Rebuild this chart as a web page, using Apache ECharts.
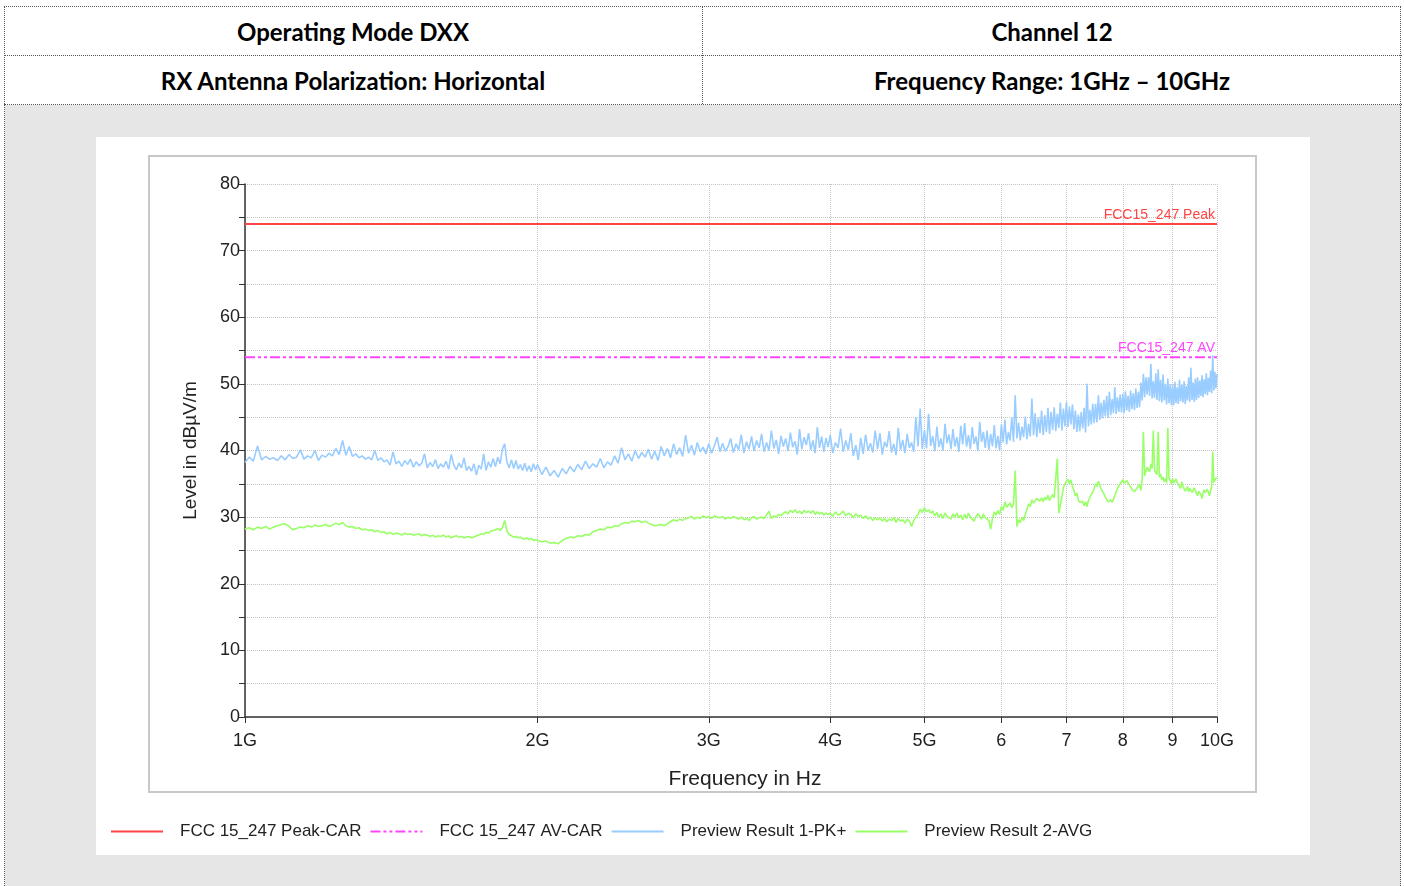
<!DOCTYPE html>
<html><head><meta charset="utf-8">
<script src="https://cdn.jsdelivr.net/npm/echarts@6/dist/echarts.min.js"></script>
<style>
html,body{margin:0;padding:0;width:1404px;height:886px;background:#fff;overflow:hidden;}
.frame{position:absolute;left:4px;top:6px;width:1397px;height:880px;border-left:1px dotted #555;border-right:1px dotted #555;border-top:1px dotted #555;box-sizing:border-box;}
.hline{position:absolute;left:4px;width:1398px;height:0;border-top:1px dotted #555;}
.vline{position:absolute;left:702px;top:6px;height:98px;width:0;border-left:1px dotted #555;}
.cell{position:absolute;display:flex;align-items:center;justify-content:center;font-family:Lato,'Open Sans',sans-serif;font-weight:700;font-size:24px;color:#000;white-space:nowrap;}
.gray{position:absolute;left:5px;top:105px;width:1396px;height:781px;background:#e6e6e6;}
#chart{position:absolute;left:96px;top:137px;width:1214px;height:718px;background:#fff;}
</style></head>
<body>
<div class="gray"></div>
<div class="frame"></div>
<div class="hline" style="top:55px"></div>
<div class="hline" style="top:104px"></div>
<div class="vline"></div>
<div class="cell" style="left:4px;top:7px;width:698px;height:48px;">Operating Mode DXX</div>
<div class="cell" style="left:703px;top:7px;width:698px;height:48px;">Channel 12</div>
<div class="cell" style="left:4px;top:56px;width:698px;height:48px;">RX Antenna Polarization: Horizontal</div>
<div class="cell" style="left:703px;top:56px;width:698px;height:48px;">Frequency Range: 1GHz – 10GHz</div>
<div id="chart"></div>
<script>
// ---- data ----
const xTickValues = [1,2,3,4,5,6,7,8,9,10];
const xTickLabels = ['1G','2G','3G','4G','5G','6','7','8','9','10G'];
const seriesNames = ['FCC 15_247 Peak-CAR','FCC 15_247 AV-CAR','Preview Result 1-PK+','Preview Result 2-AVG'];
const limitLabels = ['FCC15_247 Peak','FCC15_247 AV'];
const limitFreq = [1, 10];           // GHz
const peakLimit = [74, 74];          // dBµV/m
const avLimit = [54, 54];            // dBµV/m

const freq = [ // GHz
1.00,1.01,1.02,1.03,1.04,1.05,1.06,1.07,1.08,1.09,
1.10,1.11,1.12,1.13,1.14,1.15,1.16,1.17,1.18,1.19,
1.20,1.21,1.22,1.23,1.24,1.25,1.26,1.27,1.28,1.29,
1.30,1.31,1.32,1.33,1.34,1.35,1.36,1.37,1.38,1.39,
1.40,1.41,1.42,1.43,1.44,1.45,1.46,1.47,1.48,1.49,
1.50,1.51,1.52,1.53,1.54,1.55,1.56,1.57,1.58,1.59,
1.60,1.61,1.62,1.63,1.64,1.65,1.66,1.67,1.68,1.69,
1.70,1.71,1.72,1.73,1.74,1.75,1.76,1.77,1.78,1.79,
1.80,1.81,1.82,1.83,1.84,1.85,1.86,1.87,1.88,1.89,
1.90,1.91,1.92,1.93,1.94,1.95,1.96,1.97,1.98,1.99,
2.00,2.02,2.04,2.06,2.08,2.10,2.12,2.14,2.16,2.18,
2.20,2.22,2.24,2.26,2.28,2.30,2.32,2.34,2.36,2.38,
2.40,2.42,2.44,2.46,2.48,2.50,2.52,2.54,2.56,2.58,
2.60,2.62,2.64,2.66,2.68,2.70,2.72,2.74,2.76,2.78,
2.80,2.82,2.84,2.86,2.88,2.90,2.92,2.94,2.96,2.98,
3.00,3.02,3.04,3.06,3.08,3.10,3.12,3.14,3.16,3.18,
3.20,3.22,3.24,3.26,3.28,3.30,3.32,3.34,3.36,3.38,
3.40,3.42,3.44,3.46,3.48,3.50,3.52,3.54,3.56,3.58,
3.60,3.62,3.64,3.66,3.68,3.70,3.72,3.74,3.76,3.78,
3.80,3.82,3.84,3.86,3.88,3.90,3.92,3.94,3.96,3.98,
4.000,4.025,4.050,4.075,4.100,4.125,4.150,4.175,4.200,4.225,4.250,4.275,4.300,4.325,4.350,4.375,4.400,4.425,4.450,4.475,
4.500,4.525,4.550,4.575,4.600,4.625,4.650,4.675,4.700,4.725,4.750,4.775,4.800,4.825,4.850,4.875,4.900,4.925,4.950,4.975,
5.000,5.025,5.050,5.075,5.100,5.125,5.150,5.175,5.200,5.225,5.250,5.275,5.300,5.325,5.350,5.375,5.400,5.425,5.450,5.475,
5.500,5.525,5.550,5.575,5.600,5.625,5.650,5.675,5.700,5.725,5.750,5.775,5.800,5.825,5.850,5.875,5.900,5.925,5.950,5.975,
6.000,6.025,6.050,6.075,6.100,6.125,6.150,6.175,6.200,6.225,6.250,6.275,6.300,6.325,6.350,6.375,6.400,6.425,6.450,6.475,
6.500,6.525,6.550,6.575,6.600,6.625,6.650,6.675,6.700,6.725,6.750,6.775,6.800,6.825,6.850,6.875,6.900,6.925,6.950,6.975,
7.000,7.025,7.050,7.075,7.100,7.125,7.150,7.175,7.200,7.225,7.250,7.275,7.300,7.325,7.350,7.375,7.400,7.425,7.450,7.475,
7.500,7.525,7.550,7.575,7.600,7.625,7.650,7.675,7.700,7.725,7.750,7.775,7.800,7.825,7.850,7.875,7.900,7.925,7.950,7.975,
8.000,8.025,8.050,8.075,8.100,8.125,8.150,8.175,8.200,8.225,8.250,8.275,8.300,8.325,8.350,8.375,8.400,8.425,8.450,8.475,
8.500,8.525,8.550,8.575,8.600,8.625,8.650,8.675,8.700,8.725,8.750,8.775,8.800,8.825,8.850,8.875,8.900,8.925,8.950,8.975,
9.000,9.025,9.050,9.075,9.100,9.125,9.150,9.175,9.200,9.225,9.250,9.275,9.300,9.325,9.350,9.375,9.400,9.425,9.450,9.475,
9.500,9.525,9.550,9.575,9.600,9.625,9.650,9.675,9.700,9.725,9.750,9.775,9.800,9.825,9.850,9.875,9.900,9.925,9.950,9.975,
10.000
];

const pkValues = [ // Preview Result 1-PK+ (dBµV/m)
38.2,39.0,38.4,40.7,38.6,39.1,38.7,38.9,38.5,39.2,
38.6,39.4,38.8,39.0,40.1,38.7,39.2,38.9,40.0,38.5,
39.3,39.0,39.6,39.2,40.3,39.4,41.5,39.3,40.6,39.1,
39.5,38.9,39.2,38.7,39.0,38.6,40.0,38.5,38.9,38.3,
38.6,37.8,39.8,38.0,38.4,37.6,38.5,37.9,38.7,37.5,
38.3,37.7,38.1,39.5,37.4,38.2,37.6,38.6,37.3,38.0,
37.5,38.4,37.2,39.4,37.8,37.1,38.1,37.4,38.9,37.0,
37.6,36.9,38.0,36.3,37.8,37.2,39.5,37.0,38.3,37.5,
38.8,37.6,39.0,38.0,40.2,41.0,38.2,37.4,38.6,37.3,
38.5,37.2,37.9,37.0,38.1,36.9,37.7,36.8,38.0,37.1,
37.9,36.4,37.5,36.2,37.0,36.0,37.3,36.5,37.6,36.8,
37.9,37.1,38.4,37.3,38.0,37.5,38.8,37.4,38.3,37.8,
39.2,38.1,40.4,38.6,39.5,38.4,40.0,38.8,39.7,39.0,
40.2,38.7,39.9,38.5,40.6,39.2,40.3,38.9,41.0,39.4,
40.4,39.1,42.3,39.6,40.8,39.3,41.2,39.8,40.5,39.5,
41.0,39.6,40.7,42.0,39.8,41.1,39.9,40.6,41.8,39.7,
41.0,40.1,42.4,39.6,41.3,40.2,42.1,39.9,41.5,40.4,
42.5,39.8,41.2,40.0,43.0,40.3,41.6,39.5,42.2,40.6,
41.8,39.9,42.7,40.5,41.4,39.4,43.2,40.2,42.0,40.8,
42.6,40.1,41.5,39.6,43.5,40.4,42.1,39.8,41.9,40.5,
42.3,39.6,41.2,40.4,43.3,39.8,41.5,40.1,42.6,39.2,40.8,38.6,41.9,39.5,42.4,40.0,41.1,39.7,43.0,40.2,
42.6,39.4,41.3,40.5,42.9,39.7,41.0,39.3,43.4,40.1,41.6,39.6,42.5,40.4,41.2,39.8,45.0,40.6,46.3,40.2,
43.1,40.3,45.5,40.7,42.2,39.9,43.6,40.5,41.8,40.0,44.0,41.1,42.4,40.2,43.2,40.6,42.0,39.8,43.7,40.9,
44.1,40.6,42.3,40.2,43.5,41.0,42.1,39.9,44.3,41.3,42.8,40.4,43.0,40.1,42.5,40.6,43.8,40.3,42.2,40.0,
43.9,41.2,44.6,40.9,42.8,41.5,45.0,41.3,48.3,41.8,44.2,41.5,43.6,42.0,45.1,41.7,44.0,42.1,47.8,42.3,
45.6,42.0,44.9,42.6,46.0,42.3,45.3,42.8,46.4,42.5,45.8,43.1,46.5,42.9,45.5,43.4,47.2,43.0,46.3,43.6,
47.3,43.5,46.6,43.9,46.9,43.2,46.0,42.8,45.4,42.9,45.8,43.3,46.4,42.7,50.0,43.6,46.1,43.9,47.0,44.1,
47.0,44.2,48.3,44.6,47.2,44.8,47.6,45.1,48.2,44.9,48.8,45.3,47.7,45.6,49.5,45.5,48.0,45.8,48.4,45.7,
48.5,45.6,48.9,46.0,48.2,45.8,49.0,46.2,48.6,46.1,49.3,46.4,48.8,46.5,50.2,47.5,51.5,48.0,51.0,48.4,
51.0,48.2,53.0,47.8,50.4,47.9,51.6,47.6,52.2,47.4,50.6,47.2,51.4,47.5,50.0,46.9,50.8,47.1,49.9,46.8,
49.8,46.8,50.3,47.1,49.5,47.0,50.6,47.4,49.9,47.2,50.4,47.0,49.7,47.5,51.0,47.3,52.4,47.6,50.2,47.3,
50.8,47.6,51.0,47.9,50.5,48.2,51.3,48.0,50.7,48.5,51.6,48.3,50.9,48.8,52.0,48.6,54.3,49.0,51.8,49.3,
51.5
];

const avgValues = [ // Preview Result 2-AVG (dBµV/m)
28.2,28.4,28.1,28.5,28.3,28.6,28.2,28.5,28.7,28.9,
29.0,28.6,28.1,28.3,28.5,28.4,28.7,28.5,28.8,28.6,
28.7,28.9,28.6,28.8,29.1,28.9,29.2,28.7,28.5,28.6,
28.3,28.4,28.1,28.2,28.0,28.1,27.8,28.0,27.7,27.8,
27.5,27.7,27.4,27.6,27.5,27.3,27.6,27.4,27.5,27.3,
27.4,27.5,27.2,27.4,27.3,27.1,27.3,27.0,27.2,27.1,
27.3,27.0,27.2,26.9,27.1,27.2,27.0,27.1,26.9,27.0,
27.1,26.9,27.0,27.2,27.3,27.5,27.4,27.7,27.6,27.9,
28.0,28.1,28.3,28.0,28.4,29.5,27.9,27.4,27.2,27.0,
27.1,26.9,27.0,26.8,26.7,26.9,26.6,26.8,26.5,26.6,
26.5,26.3,26.4,26.1,26.2,26.0,26.5,26.8,27.0,26.9,
27.2,27.1,27.4,27.3,27.8,28.0,28.2,28.1,28.5,28.4,
28.7,28.6,29.0,29.2,29.1,29.4,29.3,29.5,29.2,29.4,
29.1,28.9,28.7,28.8,28.9,28.7,29.0,29.3,29.6,29.4,
29.7,29.5,29.8,29.9,30.1,29.7,30.0,29.8,30.2,29.9,
30.1,29.8,30.2,30.0,29.9,30.1,29.7,30.0,29.8,30.1,
29.9,29.7,30.0,29.6,29.8,29.5,29.9,30.1,29.7,29.9,
30.0,29.8,30.3,30.9,29.8,30.2,30.0,30.4,30.2,30.6,
30.8,30.5,31.0,30.7,31.1,30.6,30.9,30.5,31.0,30.7,
30.9,30.6,31.0,30.4,30.8,30.5,30.7,30.3,30.6,30.4,
30.6,30.1,30.8,30.3,30.5,30.9,30.2,30.6,30.4,29.9,30.5,30.1,30.3,29.8,30.2,29.7,30.0,29.5,29.9,29.6,
29.9,29.4,29.8,29.3,29.7,29.5,30.0,29.2,29.8,29.4,29.6,29.1,29.7,29.4,28.6,29.5,30.0,30.4,31.2,30.7,
31.4,30.8,31.1,30.6,30.9,30.2,30.7,30.0,30.5,29.8,30.6,30.1,30.4,29.7,30.5,30.0,30.6,29.9,30.3,29.6,
30.4,29.8,30.6,30.0,30.3,29.4,30.1,30.5,30.2,29.7,30.5,29.9,30.0,29.5,28.2,29.8,30.8,30.3,31.0,30.4,
31.6,31.0,32.3,31.5,31.8,32.1,31.4,32.0,37.0,28.6,29.6,29.2,30.0,29.5,30.4,31.2,32.0,31.6,32.6,32.1,
32.2,32.8,33.1,32.4,32.9,32.3,33.0,32.6,33.3,32.5,32.8,33.4,32.9,33.2,38.8,30.6,31.8,33.0,34.4,35.0,
35.3,35.7,35.0,35.6,34.6,34.0,33.2,33.6,32.6,32.2,31.9,32.4,31.7,32.3,31.6,32.5,32.9,33.4,33.8,34.3,
35.0,34.6,35.4,34.8,34.2,33.9,33.5,33.0,32.8,32.3,32.0,32.6,32.2,32.7,33.2,33.8,34.3,34.0,35.0,34.7,
35.6,35.1,35.0,35.5,35.4,34.8,34.6,34.2,34.1,33.8,33.8,34.4,34.3,34.9,34.0,35.6,42.8,36.2,36.9,37.5,
37.6,36.8,38.0,37.3,43.0,37.0,37.2,36.4,42.8,36.0,36.5,35.6,36.0,35.3,35.8,35.1,43.4,35.9,35.5,35.0,
35.8,35.1,35.2,35.7,35.6,34.8,34.8,34.3,35.3,34.6,34.5,33.9,34.2,34.6,33.8,34.3,34.5,33.7,33.9,34.4,
34.3,33.6,33.2,33.9,34.0,33.4,32.8,33.5,34.1,33.7,33.5,34.2,33.6,33.2,34.0,34.6,39.8,35.2,35.4,35.9,
35.8
];

// ---- build ----
const zip = (xs, ys) => xs.map((x, i) => [x, ys[i]]);
const FONT = "'Liberation Sans', Arial, sans-serif";
const colors = ['#ff4444', '#ff44ff', '#99ccff', '#99ff66'];

const chart = echarts.init(document.getElementById('chart'), null, {renderer: 'canvas'});
chart.setOption({
  animation: false,
  backgroundColor: '#ffffff',
  graphic: [{
    type: 'rect', silent: true, z: -10,
    shape: {x: 53, y: 19, width: 1107, height: 636},
    style: {fill: 'none', stroke: '#c8c8c8', lineWidth: 2}
  }],
  grid: {left: 149, right: 93, top: 47, bottom: 138, containLabel: false},
  legend: {
    left: 9, bottom: 10,
    itemWidth: 52, itemHeight: 14, itemGap: 8,
    itemStyle: {opacity: 0},
    textStyle: {fontFamily: FONT, fontSize: 17, color: '#222', padding: [0, 0, 0, 12]},
    data: seriesNames
  },
  xAxis: {
    type: 'log', logBase: 10, min: 1, max: 10,
    name: 'Frequency in Hz', nameLocation: 'middle', nameGap: 52,
    nameTextStyle: {fontFamily: FONT, fontSize: 21, color: '#222', padding: [0, 0, 0, 28]},
    axisLine: {show: true, onZero: false, lineStyle: {color: '#333', width: 1.5}},
    axisTick: {show: true, length: 6, customValues: xTickValues, lineStyle: {color: '#333'}},
    axisLabel: {
      customValues: xTickValues, margin: 15,
      fontFamily: FONT, fontSize: 18, color: '#222',
      formatter: v => xTickLabels[xTickValues.indexOf(Math.round(v))] || ''
    },
    splitLine: {show: true, lineStyle: {color: '#c4c4c4', type: 'dotted', width: 1}},
    minorTick: {show: false}
  },
  yAxis: {
    type: 'value', min: 0, max: 80, interval: 5,
    name: 'Level in dBµV/m', nameLocation: 'middle', nameGap: 45,
    nameTextStyle: {fontFamily: FONT, fontSize: 19, color: '#222'},
    axisLine: {show: true, onZero: false, lineStyle: {color: '#333', width: 1.5}},
    axisTick: {show: true, length: 6, lineStyle: {color: '#333'}},
    axisLabel: {
      margin: 5, fontFamily: FONT, fontSize: 18, color: '#222',
      formatter: v => (v % 10 === 0 ? String(v) : '')
    },
    splitLine: {show: true, lineStyle: {color: '#c4c4c4', type: 'dotted', width: 1}}
  },
  series: [
    {
      name: seriesNames[0], type: 'line', data: zip(limitFreq, peakLimit),
      symbol: 'none', z: 5, color: colors[0],
      lineStyle: {color: colors[0], width: 2.2},
      markLine: {
        silent: true, symbol: 'none',
        lineStyle: {color: 'transparent', width: 0},
        label: {show: true, position: 'insideEndTop', distance: 2, formatter: limitLabels[0],
                color: colors[0], fontFamily: FONT, fontSize: 14},
        data: [{yAxis: peakLimit[1]}]
      }
    },
    {
      name: seriesNames[1], type: 'line', data: zip(limitFreq, avLimit),
      symbol: 'none', z: 5, color: colors[1],
      lineStyle: {color: colors[1], width: 2, type: [10, 3, 3, 3, 3, 3]},
      markLine: {
        silent: true, symbol: 'none',
        lineStyle: {color: 'transparent', width: 0},
        label: {show: true, position: 'insideEndTop', distance: 2, formatter: limitLabels[1],
                color: colors[1], fontFamily: FONT, fontSize: 14},
        data: [{yAxis: avLimit[1]}]
      }
    },
    {
      name: seriesNames[2], type: 'line', data: zip(freq, pkValues),
      symbol: 'none', z: 3, color: colors[2],
      lineStyle: {color: colors[2], width: 1.6}
    },
    {
      name: seriesNames[3], type: 'line', data: zip(freq, avgValues),
      symbol: 'none', z: 3, color: colors[3],
      lineStyle: {color: colors[3], width: 1.6}
    }
  ]
});
</script>
</body></html>
